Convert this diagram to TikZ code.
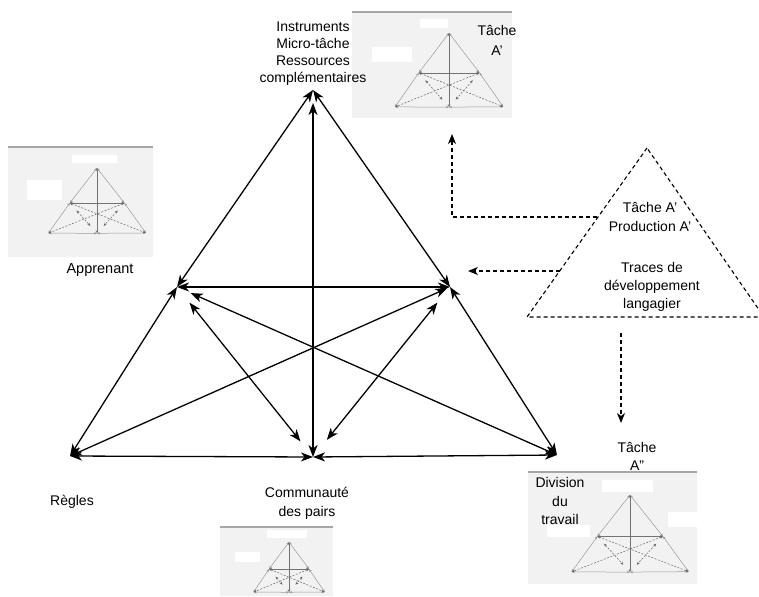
\documentclass[tikz,border=0pt]{standalone}
\usepackage{fontspec}
\setmainfont{Liberation Sans}
\usetikzlibrary{arrows.meta}

\tikzset{
  link/.style={line width=1.3pt,
    {Stealth[length=12pt,width=9pt,inset=3.5pt]}-{Stealth[length=12pt,width=9pt,inset=3.5pt]}},
  dlink/.style={line width=1.1pt, dash pattern=on 4pt off 3pt,
    -{Stealth[length=10pt,width=8pt,inset=3pt]}},
  dtri/.style={line width=1.1pt, dash pattern=on 4pt off 3pt},
  lbl/.style={font=\fontsize{14pt}{17pt}\selectfont, align=center, inner sep=0pt},
  thumbbg/.style={fill=black!5},
  thumbtop/.style={draw=black!35, line width=1.3pt},
  patch/.style={fill=white},
  minisolid/.style={draw=black!40, line width=0.5pt},
  minidash/.style={draw=black!60, line width=0.5pt, dash pattern=on 2pt off 1.5pt},
  minitip/.style={{Stealth[length=3pt,width=2.6pt]}-{Stealth[length=3pt,width=2.6pt]}},
  % miniature copy of the activity triangle
  minitri/.pic={
    \coordinate (-t)  at (0,0);
    \coordinate (-l)  at (-136,197);
    \coordinate (-r)  at (137,197);
    \coordinate (-bl) at (-243,366);
    \coordinate (-bm) at (0,367);
    \coordinate (-br) at (244,365);
    \draw[minisolid, minitip] (-t) -- (-l);
    \draw[minisolid, minitip] (-t) -- (-r);
    \draw[minisolid, minitip] (-l) -- (-bl);
    \draw[minisolid, minitip] (-r) -- (-br);
    \draw[minisolid, minitip] (-bl) -- (-bm);
    \draw[minisolid, minitip] (-bm) -- (-br);
    \draw[minisolid, minitip, draw=black!55] (-t) -- (-bm);
    \draw[minisolid, minitip, draw=black!55] (-l) -- (-r);
    \draw[minidash, minitip] (-l) -- (-br);
    \draw[minidash, minitip] (-r) -- (-bl);
    \draw[minidash, minitip, shorten <=10pt, shorten >=10pt] (-l) -- (-bm);
    \draw[minidash, minitip, shorten <=10pt, shorten >=10pt] (-r) -- (-bm);
  }
}

\begin{document}
\begin{tikzpicture}[x=1pt,y=-1pt]
\useasboundingbox (0,0) rectangle (759,596);
\fill[white] (0,0) rectangle (759,596);

% ---- thumbnail panels ----
% top
\fill[thumbbg] (352,12) rectangle (512,118);
\fill[patch] (372,47) rectangle (412,62);
\fill[patch] (420,19) rectangle (448,28);
\draw[thumbtop] (352,12) -- (512,12);
\pic[xscale=0.222,yscale=0.202] (mtop) at (449,33) {minitri};
% left
\fill[thumbbg] (8,147) rectangle (153,257);
\fill[patch] (27,180) rectangle (62,200);
\fill[patch] (72,155) rectangle (117,163);
\draw[thumbtop] (8,147) -- (153,147);
\pic[xscale=0.2,yscale=0.178] (mleft) at (97,168) {minitri};
% bottom
\fill[thumbbg] (220,527) rectangle (333,596);
\fill[patch] (235,552) rectangle (260,562);
\fill[patch] (267,530) rectangle (307,538);
\draw[thumbtop] (220,527) -- (333,527);
\pic[xscale=0.146,yscale=0.137] (mbot) at (289,542) {minitri};
% bottom right
\fill[thumbbg] (528,472) rectangle (697,584);
\fill[patch] (602,480) rectangle (653,492);
\fill[patch] (668,512) rectangle (697,527);
\fill[patch] (547,525) rectangle (590,537);
\draw[thumbtop] (528,472) -- (697,472);
\pic[xscale=0.24,yscale=0.21] (mbr) at (630,495) {minitri};

% ---- main activity triangle ----
\coordinate (T)  at (313,90);
\coordinate (L)  at (177,287);
\coordinate (R)  at (450,287);
\coordinate (BL) at (70,456);
\coordinate (BM) at (313,457);
\coordinate (BR) at (557,455);

\draw[link] (T) -- (L);
\draw[link] (T) -- (R);
\draw[link, shorten <=13pt] (T) -- (BM);
\draw[link] (L) -- (R);
\draw[link] (L) -- (BL);
\draw[link] (R) -- (BR);
\draw[link] (BL) -- (BM);
\draw[link] (BM) -- (BR);
\draw[link, shorten <=15pt] (L) -- (BR);
\draw[link, shorten <=3pt] (R) -- (BL);
\draw[link, shorten <=20pt, shorten >=20pt] (L) -- (BM);
\draw[link, shorten <=20pt, shorten >=22pt] (R) -- (BM);

% ---- labels ----
\node[lbl] (instr) at (313,54) {Instruments\\Micro-tâche\\Ressources\\complémentaires};
\node[lbl, font=\fontsize{14pt}{20pt}\selectfont] (tA1) at (497,40) {Tâche\\A'};
\node[lbl, font=\fontsize{14.5pt}{17pt}\selectfont] (appr) at (100,270) {Apprenant};
\node[lbl] (regl) at (72,502) {Règles};
\node[lbl, font=\fontsize{14pt}{19pt}\selectfont] (comm) at (307,503) {Communauté\\des pairs};
\node[lbl, font=\fontsize{14pt}{18pt}\selectfont] (tA2) at (637,456) {Tâche\\A''};
\node[lbl, font=\fontsize{14pt}{18.5pt}\selectfont] (divi) at (560,501) {Division\\du\\travail};

% ---- dashed production triangle ----
\coordinate (pt) at (647,148);
\coordinate (pl) at (527,317);
\coordinate (pr) at (764,317);
\begin{scope}
  \clip (0,0) rectangle (759,596);
  \draw[dtri] (pt) -- (pl) -- (pr) -- cycle;
\end{scope}
\node[lbl, font=\fontsize{14pt}{19pt}\selectfont] (prod) at (650,217) {Tâche A'\\Production A'};
\node[lbl, font=\fontsize{14pt}{18pt}\selectfont] (trace) at (652,287) {Traces de\\développement\\langagier};

% ---- dashed links from the production triangle ----
\coordinate (d1s) at (597,217);
\coordinate (d1c) at (452,217);
\coordinate (d1e) at (452,134);
\coordinate (d2s) at (560,271);
\coordinate (d2e) at (468,271);
\coordinate (d3s) at (621,333);
\coordinate (d3e) at (621,423);
\draw[dlink] (d1s) -- (d1c) -- (d1e);
\draw[dlink] (d2s) -- (d2e);
\draw[dlink] (d3s) -- (d3e);
\end{tikzpicture}
\end{document}
